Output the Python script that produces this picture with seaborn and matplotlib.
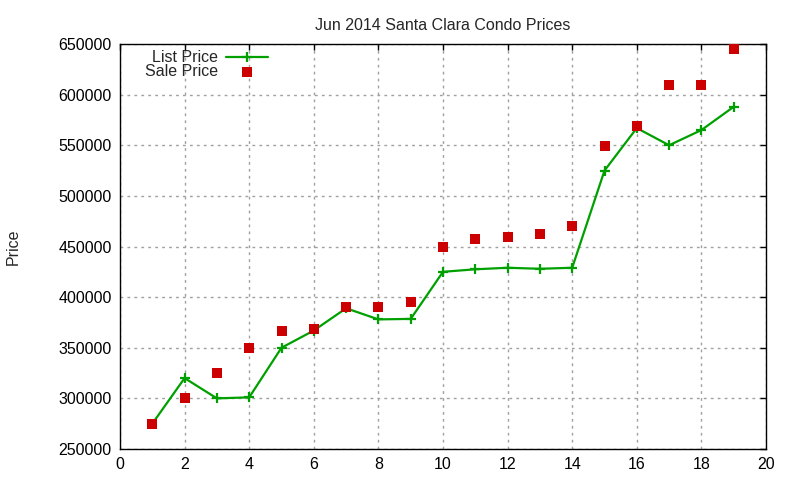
import matplotlib
matplotlib.use('Agg')
import matplotlib.pyplot as plt
import pandas as pd
import seaborn as sns

# Values.
months = list(range(1, 20))
list_price = [275000, 320000, 300000, 301000, 350000, 367000, 389000, 378000,
              378500, 425000, 427500, 429000, 428000, 429000, 525000, 567000,
              550000, 565000, 588000]
sale_price = [275000, 300000, 325000, 350000, 367000, 369000, 390000, 390000,
              395000, 450000, 457500, 459500, 462500, 470000, 549000, 569000,
              610000, 610000, 645000]

df = pd.DataFrame({'x': months, 'List Price': list_price,
                   'Sale Price': sale_price})

sns.set_theme(style='white')
plt.rcParams['font.family'] = ['Liberation Sans', 'DejaVu Sans']

fig = plt.figure(figsize=(8, 4.8), dpi=100)
ax = fig.add_axes([0.15, 0.0646, 0.8075, 0.8437])

sns.lineplot(data=df, x='x', y='List Price', ax=ax, color='#00a000',
             linewidth=1.6, marker='+', markersize=7, markeredgewidth=1.6,
             markeredgecolor='#00a000', label='List Price')
sns.scatterplot(data=df, x='x', y='Sale Price', ax=ax, color='#cc0000',
                marker='s', s=45, linewidth=0, label='Sale Price', zorder=3)

ax.set_xlim(0, 20)
ax.set_ylim(250000, 650000)
ax.set_xticks(range(0, 21, 2))
ax.set_yticks(range(250000, 650001, 50000))
ax.set_yticklabels([str(v) for v in range(250000, 650001, 50000)])
ax.grid(True, color='#a0a0a0', linestyle=(0, (2, 3)), linewidth=1)
ax.tick_params(direction='in', length=4.5, width=1, top=True, right=True,
               labelsize=11.5, colors='black', pad=6)
for s in ax.spines.values():
    s.set_color('black')
    s.set_linewidth(1)

ax.set_xlabel('')
ax.set_ylabel('Price', fontsize=11.5, labelpad=27)
ax.set_title('Jun 2014 Santa Clara Condo Prices', fontsize=11.5, pad=10)

# gnuplot-style key: text first, sample after, right aligned
ax.legend(loc='upper left', bbox_to_anchor=(0.039, 0.985),
          markerfirst=False, frameon=False, fontsize=11.5,
          handlelength=2.6, handletextpad=0.5, labelspacing=-0.05,
          borderaxespad=0, borderpad=0)

fig.savefig('out.png', dpi=100)
